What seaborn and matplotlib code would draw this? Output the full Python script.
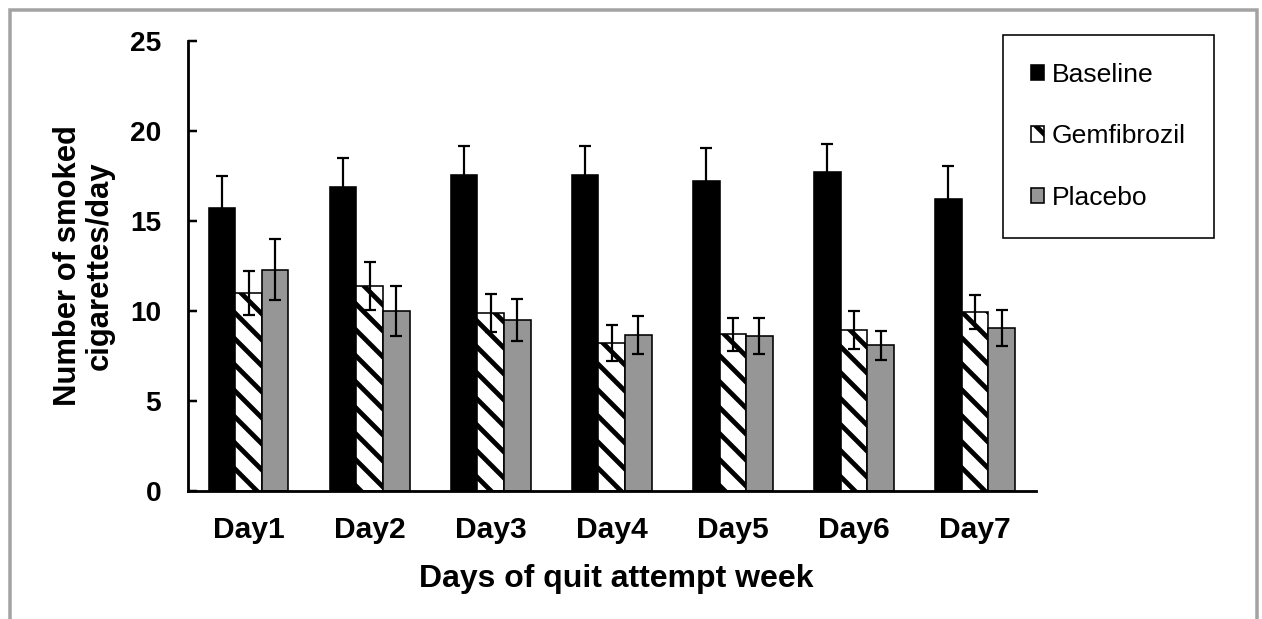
import pandas as pd
import matplotlib.pyplot as plt
import seaborn as sns
from matplotlib.patches import Rectangle

# Data
days = ["Day1", "Day2", "Day3", "Day4", "Day5", "Day6", "Day7"]
groups = ["Baseline", "Gemfibrozil", "Placebo"]
baseline = [15.75, 16.9, 17.55, 17.55, 17.2, 17.75, 16.25]
baseline_err = [1.75, 1.6, 1.6, 1.6, 1.85, 1.55, 1.8]
gemfibrozil = [11.0, 11.4, 9.9, 8.2, 8.7, 8.95, 9.95]
gemfibrozil_err = [1.2, 1.35, 1.05, 1.0, 0.9, 1.05, 0.95]
placebo = [12.3, 10.0, 9.5, 8.65, 8.6, 8.1, 9.05]
placebo_err = [1.7, 1.4, 1.15, 1.05, 1.0, 0.8, 1.0]

values = [baseline, gemfibrozil, placebo]
errors = [baseline_err, gemfibrozil_err, placebo_err]

df = pd.DataFrame({
    "day": days * 3,
    "group": [g for g in groups for _ in days],
    "value": baseline + gemfibrozil + placebo,
})

DPI = 78
W, H = 1262, 619


def pt(px):
    # convert pixels to points at this dpi
    return px * 72 / DPI


sns.set_style("white")
plt.rcParams["font.family"] = ["Liberation Sans", "DejaVu Sans"]
plt.rcParams["hatch.linewidth"] = pt(4.8)
plt.rcParams["hatch.color"] = "black"
for k in ["text.color", "axes.labelcolor", "xtick.color", "ytick.color"]:
    plt.rcParams[k] = "black"

fig = plt.figure(figsize=(W / DPI, H / DPI), dpi=DPI)
ax = fig.add_axes([188 / W, 1 - 491 / H, (1035.5 - 188) / W, (491 - 41) / H])

sns.barplot(data=df, x="day", y="value", hue="group", hue_order=groups,
            palette=["black", "white", "#969696"], width=0.66, saturation=1,
            edgecolor="black", linewidth=pt(1.6), errorbar=None,
            legend=False, ax=ax)

# hatch for the Gemfibrozil bars
for bar in ax.containers[1]:
    bar.set_hatch("\\")

# error bars at the bar centres
for cont, err in zip(ax.containers, errors):
    xs = [b.get_x() + b.get_width() / 2 for b in cont]
    ys = [b.get_height() for b in cont]
    ax.errorbar(xs, ys, yerr=err, fmt="none", ecolor="black",
                elinewidth=pt(2.2), capsize=pt(5.8), capthick=pt(2.2), zorder=4)

ax.set_xlim(-0.5, 6.5)
ax.set_ylim(0, 25)
ax.set_yticks([0, 5, 10, 15, 20, 25])

sns.despine(ax=ax)
for s in ["left", "bottom"]:
    ax.spines[s].set_linewidth(pt(2.8))
    ax.spines[s].set_color("black")

ax.tick_params(axis="y", left=True, direction="in", length=pt(9), width=pt(2.5),
               labelsize=pt(28), pad=pt(27), colors="black")
ax.tick_params(axis="x", bottom=False, length=0, labelsize=pt(30), pad=pt(25),
               colors="black")
for lab in ax.get_xticklabels() + ax.get_yticklabels():
    lab.set_fontweight("bold")

ax.set_xlabel("Days of quit attempt week", fontsize=pt(32), fontweight="bold")
ax.xaxis.set_label_coords(0.505, -0.163)
ax.set_ylabel("Number of smoked\ncigarettes/day", fontsize=pt(31),
              fontweight="bold", linespacing=1.1)
ax.yaxis.set_label_coords(-0.086, 0.5)

leg = ax.legend(ax.containers, groups, loc="upper left",
                bbox_to_anchor=(1003 / W, 1 - 35 / H), bbox_transform=fig.transFigure,
                borderaxespad=0, fontsize=pt(26.5), frameon=True, fancybox=False,
                edgecolor="black", framealpha=1, handlelength=0.5, handleheight=0.5,
                handletextpad=0.3, labelspacing=1.42, borderpad=1.05)
leg.get_frame().set_linewidth(pt(1.6))
for t in leg.get_texts():
    t.set_color("black")

# grey frame around the figure
fig.patches.append(Rectangle((10 / W, -0.05), (1257 - 10) / W, 1.05 - 10 / H,
                             transform=fig.transFigure, fill=False,
                             edgecolor="#a3a3a3", linewidth=pt(3.5)))

fig.savefig("out.png", dpi=DPI)
